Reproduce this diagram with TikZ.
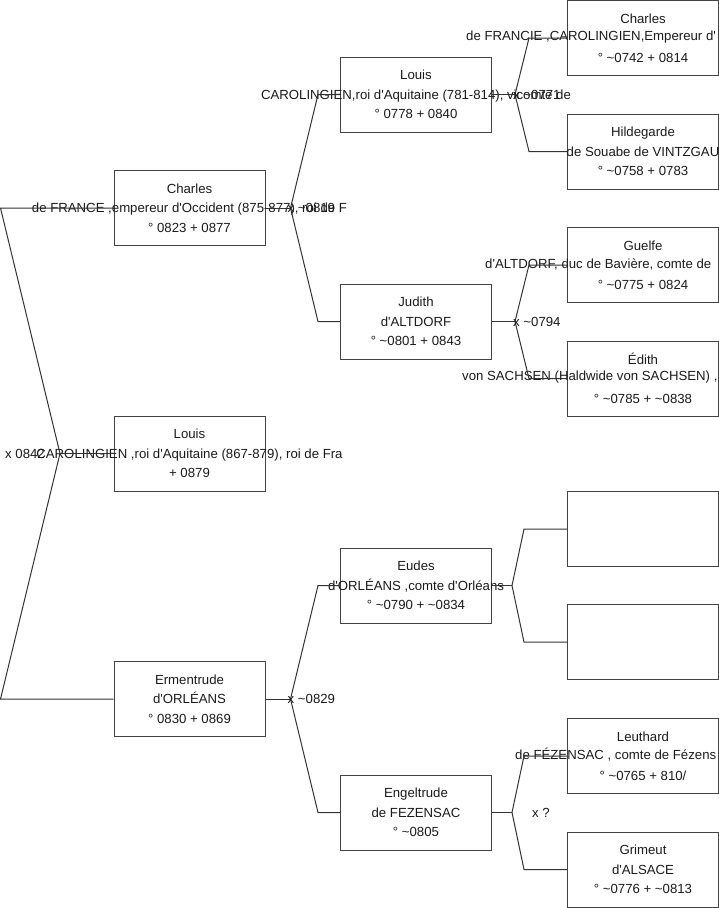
\documentclass[tikz,border=0pt]{standalone}
\usepackage{fontspec}
\setmainfont{Liberation Sans}[Ligatures=TeXOff]
\definecolor{boxgray}{HTML}{444444}
\definecolor{linegray}{HTML}{333333}
\definecolor{txt}{HTML}{1A1A1A}
\newcommand{\tld}{\textasciitilde}
\begin{document}
\begin{tikzpicture}[x=1pt,y=-1pt,
  pbox/.style={draw=boxgray, line width=1pt, minimum width=151pt, minimum height=75pt, inner sep=0pt},
  ptext/.style={align=center, font=\fontsize{13.2}{19.3}\selectfont, text=txt, inner sep=0pt},
  midline/.style={anchor=west, font=\fontsize{13.2}{15}\selectfont, text=txt, inner sep=0pt},
  link/.style={draw=linegray, line width=1pt},
  mlabel/.style={anchor=west, font=\fontsize{13.2}{15}\selectfont, text=txt, inner sep=0pt}]
\useasboundingbox (0,0) rectangle (719,908);

% ---- boxes: column 1
\node[pbox] (c1a) at (189.5,208) {};
\node[pbox] (c1b) at (189.5,453.5) {};
\node[pbox] (c1c) at (189.5,699) {};
% ---- column 2
\node[pbox] (c2a) at (416,94.5) {};
\node[pbox] (c2b) at (416,321.5) {};
\node[pbox] (c2c) at (416,585.5) {};
\node[pbox] (c2d) at (416,812.5) {};
% ---- column 3
\node[pbox] (c3a) at (643,38) {};
\node[pbox] (c3b) at (643,151.5) {};
\node[pbox] (c3c) at (643,265) {};
\node[pbox] (c3d) at (643,378.5) {};
\node[pbox] (c3e) at (643,529) {};
\node[pbox] (c3f) at (643,642) {};
\node[pbox] (c3g) at (643,756) {};
\node[pbox] (c3h) at (643,869.5) {};

% ---- texts
\node[ptext] (t1a) at (c1a.center) {Charles\\de FRANCE ,empereur d'Occident (875-877), roi de F\\° 0823 + 0877};
\node[ptext] (t1b) at (c1b.center) {Louis\\CAROLINGIEN ,roi d'Aquitaine (867-879), roi de Fra\\+ 0879};
\node[ptext] (t1c) at (c1c.center) {Ermentrude\\d'ORLÉANS\\° 0830 + 0869};
\node[ptext] (t2a) at (c2a.center) {Louis\\CAROLINGIEN,roi d'Aquitaine (781-814), vicomte de\\° 0778 + 0840};
\node[ptext] (t2b) at (c2b.center) {Judith\\d'ALTDORF\\° \tld0801 + 0843};
\node[ptext] (t2c) at (c2c.center) {Eudes\\d'ORLÉANS ,comte d'Orléans\\° \tld0790 + \tld0834};
\node[ptext] (t2d) at (c2d.center) {Engeltrude\\de FEZENSAC\\° \tld0805};
\node[ptext] (t3a) at (c3a.center) {Charles\\\mbox{}\\° \tld0742 + 0814};
\node[midline] (m3a) at (466,37) {de FRANCIE ,CAROLINGIEN,Empereur d'};
\node[ptext] (t3b) at (c3b.center) {Hildegarde\\de Souabe de VINTZGAU\\° \tld0758 + 0783};
\node[ptext] (t3c) at (c3c.center) {Guelfe\\\mbox{}\\° \tld0775 + 0824};
\node[midline] (m3c) at (485,264) {d'ALTDORF, duc de Bavière, comte de};
\node[ptext] (t3d) at (c3d.center) {Édith\\\mbox{}\\° \tld0785 + \tld0838};
\node[midline] (m3d) at (462,377.5) {von SACHSEN (Haldwide von SACHSEN) ,};
\node[ptext] (t3g) at (c3g.center) {Leuthard\\\mbox{}\\° \tld0765 + 810/};
\node[midline] (m3g) at (515,755) {de FÉZENSAC , comte de Fézens};
\node[ptext] (t3h) at (c3h.center) {Grimeut\\d'ALSACE\\° \tld0776 + \tld0813};

% ---- root fork
\coordinate (r0) at (0.5,208);
\coordinate (rk) at (60,453.5);
\coordinate (r1) at (0.5,699);
\draw[link] (c1b.west) -- (rk);
\draw[link] (c1a.west) -- (r0) -- (rk) -- (r1) -- (c1c.west);
\node[mlabel] (l0) at (5,453.5) {x 0842};

% ---- column 1 -> column 2
\draw[link] (c1a.east) -- ++(25,0) coordinate (k1a);
\draw[link] (k1a) -- ([xshift=-22pt]c2a.west) -- (c2a.west);
\draw[link] (k1a) -- ([xshift=-22pt]c2b.west) -- (c2b.west);
\node[mlabel] (l1a) at ([xshift=-3pt]k1a) {x \tld0819};

\draw[link] (c1c.east) -- ++(25,0) coordinate (k1c);
\draw[link] (k1c) -- ([xshift=-22pt]c2c.west) -- (c2c.west);
\draw[link] (k1c) -- ([xshift=-22pt]c2d.west) -- (c2d.west);
\node[mlabel] (l1c) at ([xshift=-3pt]k1c) {x \tld0829};

% ---- column 2 -> column 3
\draw[link] (c2a.east) -- ++(23,0) coordinate (k2a);
\draw[link] (k2a) -- ([xshift=-38pt]c3a.west) -- (c3a.west);
\draw[link] (k2a) -- ([xshift=-38pt]c3b.west) -- (c3b.west);
\node[mlabel] (l2a) at ([xshift=-2pt]k2a) {x \tld0771};

\draw[link] (c2b.east) -- ++(23,0) coordinate (k2b);
\draw[link] (k2b) -- ([xshift=-38pt]c3c.west) -- (c3c.west);
\draw[link] (k2b) -- ([xshift=-38pt]c3d.west) -- (c3d.west);
\node[mlabel] (l2b) at ([xshift=-2pt]k2b) {x \tld0794};

\draw[link] (c2c.east) -- ++(20,0) coordinate (k2c);
\draw[link] (k2c) -- ([xshift=-43pt]c3e.west) -- (c3e.west);
\draw[link] (k2c) -- ([xshift=-43pt]c3f.west) -- (c3f.west);

\draw[link] (c2d.east) -- ++(20,0) coordinate (k2d);
\draw[link] (k2d) -- ([xshift=-43pt]c3g.west) -- (c3g.west);
\draw[link] (k2d) -- ([xshift=-43pt]c3h.west) -- (c3h.west);
\node[mlabel] (l2d) at ([xshift=20pt]k2d) {x ?};
\end{tikzpicture}
\end{document}
